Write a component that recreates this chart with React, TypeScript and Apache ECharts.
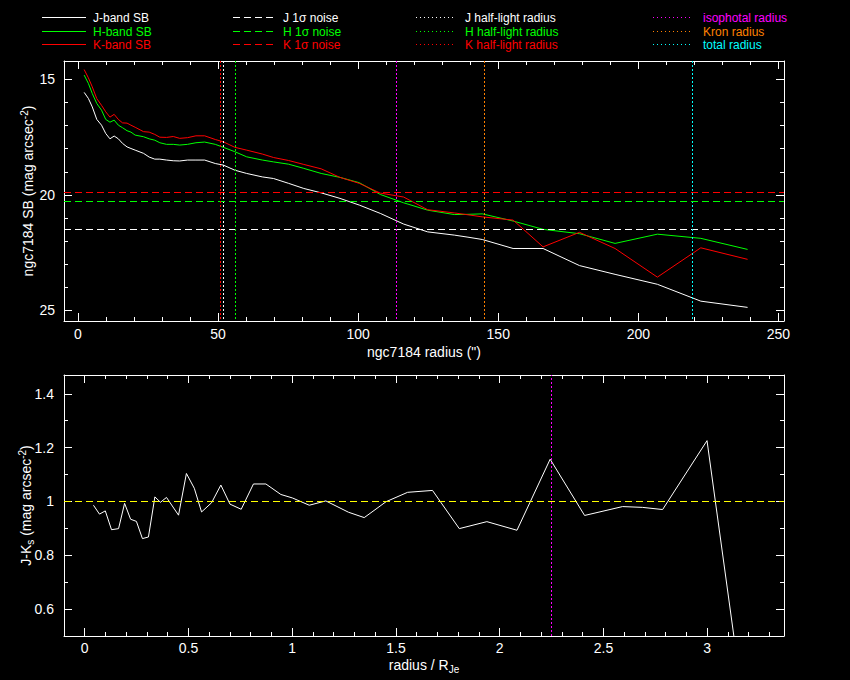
import React, { useEffect, useRef } from 'react';
import * as echarts from 'echarts';

// surface brightness profiles (radius in arcsec, mag arcsec^-2)
const sbRadius = [
  2.2, 3.7, 5.1, 6.7, 8.4, 9.9, 11.4, 12.9, 14.4, 15.9, 17.5, 18.9, 20.4, 23.4, 25.4, 27.4,
  29.2, 31.6, 34.0, 36.3, 39.1, 42.1, 45.2, 49.0, 51.9, 56.0, 60.2, 65.8, 69.8, 75.2, 80.6,
  86.8, 93.5, 100.4, 107.9, 116.2, 124.8, 134.3, 139.2, 144.3, 155.3, 166.0, 179.0, 191.7,
  206.8, 222.3, 239.0,
];
const jBandSB = [
  15.56, 15.82, 16.19, 16.73, 16.98, 17.34, 17.57, 17.45, 17.57, 17.77, 17.92, 17.99, 18.06,
  18.2, 18.36, 18.45, 18.45, 18.49, 18.52, 18.53, 18.49, 18.49, 18.49, 18.64, 18.71, 18.93,
  19.07, 19.22, 19.29, 19.5, 19.72, 19.91, 20.15, 20.44, 20.8, 21.26, 21.6, 21.74, 21.83,
  21.93, 22.32, 22.32, 23.06, 23.44, 23.87, 24.6, 24.87,
];
const hBandSB = [
  14.81, 15.17, 15.61, 16.04, 16.33, 16.73, 16.85, 16.76, 16.98, 17.09, 17.22, 17.28, 17.41,
  17.48, 17.57, 17.63, 17.74, 17.81, 17.81, 17.84, 17.81, 17.74, 17.71, 17.81, 17.94, 18.13,
  18.35, 18.49, 18.57, 18.67, 18.85, 19.07, 19.24, 19.47, 19.98, 20.34, 20.66, 20.85, 20.84,
  20.82, 21.13, 21.49, 21.68, 22.1, 21.7, 21.88, 22.36,
];
const kBandSB = [
  14.57, 14.93, 15.32, 15.83, 16.12, 16.4, 16.63, 16.51, 16.73, 16.88, 16.89, 16.98, 17.07,
  17.26, 17.28, 17.38, 17.5, 17.51, 17.47, 17.55, 17.52, 17.44, 17.44, 17.6, 17.7, 17.94,
  18.06, 18.23, 18.38, 18.51, 18.68, 18.87, 19.24, 19.5, 19.92, 20.09, 20.64, 20.78, 20.86,
  20.95, 21.09, 22.25, 21.62, 22.32, 23.56, 22.29, 22.79,
];

// 1 sigma noise levels: J, H, K
const noiseLevels = [21.49, 20.28, 19.89];
// half-light radii: J, H, K
const halfLightRadii = [51.8, 56.1, 50.7];
const isophotalRadius = 113.6;
const kronRadius = 145.0;
const totalRadius = 219.3;

// J-Ks colour profile (radius / R_Je)
const colorRatio = [
  0.042, 0.071, 0.099, 0.129, 0.163, 0.192, 0.221, 0.249, 0.278, 0.307, 0.338, 0.365, 0.394,
  0.452, 0.49, 0.528, 0.563, 0.611, 0.656, 0.7, 0.754, 0.813, 0.873, 0.945, 1.001, 1.082,
  1.162, 1.271, 1.347, 1.452, 1.556, 1.676, 1.805, 1.938, 2.083, 2.243, 2.409, 2.592, 2.688,
  2.785, 2.999, 3.205,
];
const jMinusK = [
  0.986, 0.953, 0.965, 0.895, 0.899, 0.993, 0.934, 0.926, 0.862, 0.868, 1.017, 0.997, 1.015,
  0.949, 1.104, 1.049, 0.961, 0.995, 1.061, 0.99, 0.971, 1.065, 1.065, 1.026, 1.013, 0.986,
  1.002, 0.96, 0.94, 0.999, 1.034, 1.041, 0.899, 0.925, 0.893, 1.157, 0.948, 0.981, 0.978,
  0.97, 1.226, 0.07,
];
const colorReference = 1.0;
const isophotalRatio = 2.245;

const bandColors = ['#ffffff', '#00ff00', '#ff0000'];
const FONT = "'Liberation Sans', Arial, sans-serif";
const DASHED = [7, 4];
const DOTTED = [2, 2];

const richStyles = {
  t: { fontSize: 14, color: '#fff', fontFamily: FONT, lineHeight: 18 },
  sup: { fontSize: 10, color: '#fff', fontFamily: FONT, lineHeight: 10, verticalAlign: 'top' },
  sub: { fontSize: 10, color: '#fff', fontFamily: FONT, lineHeight: 10, verticalAlign: 'bottom' },
};

const frameAxis = (gridIndex: number, min: number, max: number, split: number, minorSplit: number, extra: any = {}) => ({
  type: 'value',
  gridIndex,
  min,
  max,
  splitNumber: split,
  axisLine: { show: true, onZero: false, lineStyle: { color: '#fff', width: 1 } },
  axisTick: { show: true, inside: true, length: 8, lineStyle: { color: '#fff' } },
  minorTick: { show: true, splitNumber: minorSplit, length: 4, lineStyle: { color: '#fff' } },
  splitLine: { show: false },
  axisLabel: { show: false },
  nameMoveOverlap: false,
  ...extra,
});

const labelStyle = (margin: number) => ({
  show: true,
  color: '#fff',
  fontSize: 14,
  fontFamily: FONT,
  margin,
  showMinLabel: false,
  showMaxLabel: false,
});

const mark = (data: any[]) => ({
  symbol: ['none', 'none'],
  silent: true,
  animation: false,
  label: { show: false },
  data,
});

const App: React.FC = () => {
  const chartRef = useRef<HTMLDivElement>(null);

  useEffect(() => {
    if (!chartRef.current) return;
    const chart = echarts.init(chartRef.current, undefined, { renderer: 'svg' });

    const legendRows = [17, 31, 44];
    const legendCols = [
      { x1: 42, x2: 86, tx: 93, dash: undefined as any, labels: ['J-band SB', 'H-band SB', 'K-band SB'], colors: bandColors },
      { x1: 233, x2: 276, tx: 283, dash: DASHED, labels: ['J 1σ noise', 'H 1σ noise', 'K 1σ noise'], colors: bandColors },
      { x1: 416, x2: 455, tx: 465, dash: [1, 3], labels: ['J half-light radius', 'H half-light radius', 'K half-light radius'], colors: bandColors },
      { x1: 653, x2: 692, tx: 703, dash: [1, 3], labels: ['isophotal radius', 'Kron radius', 'total radius'], colors: ['#ff00ff', '#ff8000', '#00ffff'] },
    ];
    const graphic: any[] = [];
    legendCols.forEach((col) => {
      col.labels.forEach((label, i) => {
        const y = legendRows[i] + 0.5;
        graphic.push({
          type: 'line',
          shape: { x1: col.x1, y1: y, x2: col.x2, y2: y },
          style: { stroke: col.colors[i], lineWidth: 1, lineDash: col.dash },
          silent: true,
        });
        graphic.push({
          type: 'text',
          x: col.tx,
          y,
          style: { text: label, fill: col.colors[i], font: `12px ${FONT}`, verticalAlign: 'middle', lineHeight: 12 },
          silent: true,
        });
      });
    });

    const option: any = {
      animation: false,
      backgroundColor: '#000',
      graphic,
      grid: [
        { left: 64, top: 61, width: 720, height: 260 },
        { left: 64, top: 375, width: 720, height: 261 },
      ],
      xAxis: [
        frameAxis(0, -5, 252, 5, 5, {
          position: 'bottom',
          axisLabel: labelStyle(6),
          name: 'ngc7184 radius (")',
          nameLocation: 'middle',
          nameGap: 24,
          nameTextStyle: { color: '#fff', fontSize: 14, fontFamily: FONT },
        }),
        frameAxis(0, -5, 252, 5, 5, { position: 'top' }),
        frameAxis(1, -0.1, 3.37, 7, 5, {
          position: 'bottom',
          axisLabel: labelStyle(5),
          name: '{t|radius / R}{sub|Je}',
          nameLocation: 'middle',
          nameGap: 20,
          nameTextStyle: { color: '#fff', fontSize: 14, fontFamily: FONT, rich: richStyles },
        }),
        frameAxis(1, -0.1, 3.37, 7, 5, { position: 'top' }),
      ],
      yAxis: [
        frameAxis(0, 14.2, 25.46, 2, 5, {
          position: 'left',
          inverse: true,
          axisLabel: labelStyle(9),
          name: '{t|ngc7184 SB (mag arcsec}{sup|-2}{t|)}',
          nameLocation: 'middle',
          nameRotate: 90,
          nameGap: 27,
          nameTextStyle: { color: '#fff', fontSize: 14, fontFamily: FONT, rich: richStyles },
        }),
        frameAxis(0, 14.2, 25.46, 2, 5, { position: 'right', inverse: true }),
        frameAxis(1, 0.5, 1.47, 5, 2, {
          position: 'left',
          axisLabel: labelStyle(10),
          name: '{t|J-K}{sub|s}{t| (mag arcsec}{sup|-2}{t|)}',
          nameLocation: 'middle',
          nameRotate: 90,
          nameGap: 29,
          nameTextStyle: { color: '#fff', fontSize: 14, fontFamily: FONT, rich: richStyles },
        }),
        frameAxis(1, 0.5, 1.47, 5, 2, { position: 'right' }),
      ],
      series: [
        {
          name: 'J-band SB',
          type: 'line',
          xAxisIndex: 0,
          yAxisIndex: 0,
          data: sbRadius.map((r, i) => [r, jBandSB[i]]),
          symbol: 'none',
          lineStyle: { color: bandColors[0], width: 1 },
          markLine: mark([
            { yAxis: noiseLevels[0], lineStyle: { color: bandColors[0], width: 1, type: DASHED } },
            { xAxis: halfLightRadii[0], lineStyle: { color: bandColors[0], width: 1, type: DOTTED } },
            { xAxis: isophotalRadius, lineStyle: { color: '#ff00ff', width: 1, type: DOTTED } },
            { xAxis: kronRadius, lineStyle: { color: '#ff8000', width: 1, type: DOTTED } },
            { xAxis: totalRadius, lineStyle: { color: '#00ffff', width: 1, type: DOTTED } },
          ]),
        },
        {
          name: 'H-band SB',
          type: 'line',
          xAxisIndex: 0,
          yAxisIndex: 0,
          data: sbRadius.map((r, i) => [r, hBandSB[i]]),
          symbol: 'none',
          lineStyle: { color: bandColors[1], width: 1 },
          markLine: mark([
            { yAxis: noiseLevels[1], lineStyle: { color: bandColors[1], width: 1, type: DASHED } },
            { xAxis: halfLightRadii[1], lineStyle: { color: bandColors[1], width: 1, type: DOTTED } },
          ]),
        },
        {
          name: 'K-band SB',
          type: 'line',
          xAxisIndex: 0,
          yAxisIndex: 0,
          data: sbRadius.map((r, i) => [r, kBandSB[i]]),
          symbol: 'none',
          lineStyle: { color: bandColors[2], width: 1 },
          markLine: mark([
            { yAxis: noiseLevels[2], lineStyle: { color: bandColors[2], width: 1, type: DASHED } },
            { xAxis: halfLightRadii[2], lineStyle: { color: bandColors[2], width: 1, type: DOTTED } },
          ]),
        },
        {
          name: 'J-Ks',
          type: 'line',
          xAxisIndex: 2,
          yAxisIndex: 2,
          data: colorRatio.map((r, i) => [r, jMinusK[i]]),
          symbol: 'none',
          clip: true,
          lineStyle: { color: '#fff', width: 1 },
          markLine: mark([
            { yAxis: colorReference, lineStyle: { color: '#ffff00', width: 1, type: DASHED } },
            { xAxis: isophotalRatio, lineStyle: { color: '#ff00ff', width: 1, type: DOTTED } },
          ]),
        },
      ],
    };

    chart.setOption(option);

    return () => {
      chart.dispose();
    };
  }, []);

  return (
    <div
      ref={chartRef}
      style={{ position: 'fixed', left: 0, top: 0, width: '850px', height: '680px', background: '#000' }}
    />
  );
};

export default App;
